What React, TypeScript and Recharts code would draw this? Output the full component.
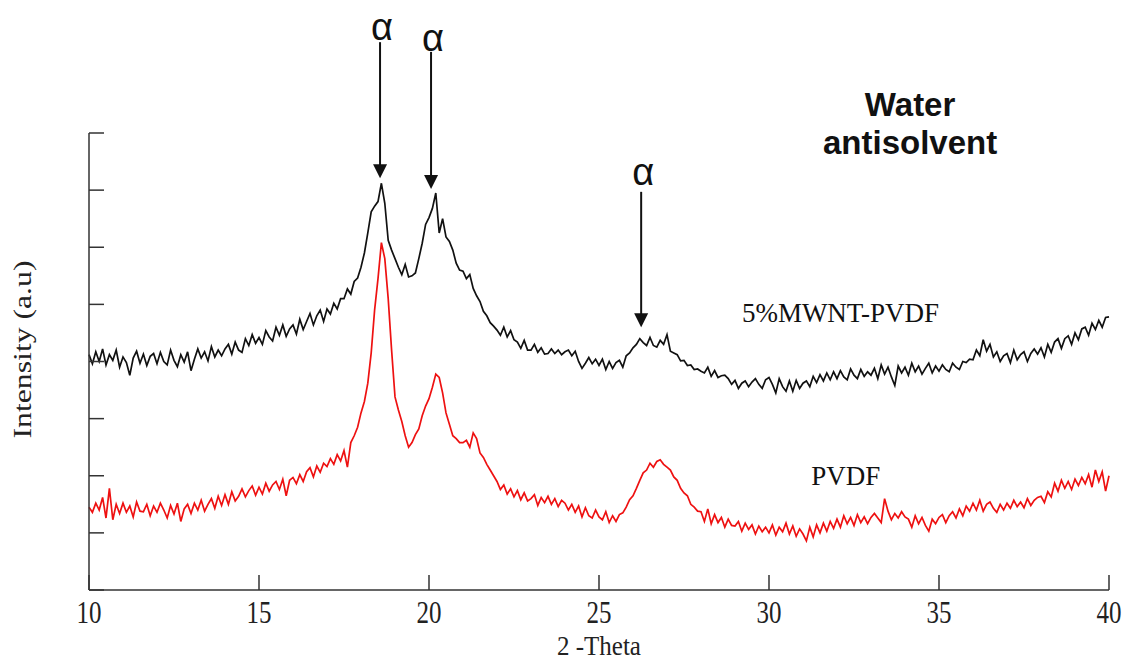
import React from "react";
import { LineChart, Line, XAxis, YAxis, ReferenceLine, ReferenceDot } from "recharts";

// 2-theta sampling grid (degrees)
const theta = [
  10, 10.1, 10.2, 10.3, 10.4, 10.5, 10.6, 10.7, 10.8, 10.9,
  11, 11.1, 11.2, 11.3, 11.4, 11.5, 11.6, 11.7, 11.8, 11.9,
  12, 12.1, 12.2, 12.3, 12.4, 12.5, 12.6, 12.7, 12.8, 12.9,
  13, 13.1, 13.2, 13.3, 13.4, 13.5, 13.6, 13.7, 13.8, 13.9,
  14, 14.1, 14.2, 14.3, 14.4, 14.5, 14.6, 14.7, 14.8, 14.9,
  15, 15.1, 15.2, 15.3, 15.4, 15.5, 15.6, 15.7, 15.8, 15.9,
  16, 16.1, 16.2, 16.3, 16.4, 16.5, 16.6, 16.7, 16.8, 16.9,
  17, 17.1, 17.2, 17.3, 17.4, 17.5, 17.6, 17.7, 17.8, 17.9,
  18, 18.1, 18.2, 18.3, 18.4, 18.5, 18.6, 18.7, 18.8, 18.9,
  19, 19.1, 19.2, 19.3, 19.4, 19.5, 19.6, 19.7, 19.8, 19.9,
  20, 20.1, 20.2, 20.3, 20.4, 20.5, 20.6, 20.7, 20.8, 20.9,
  21, 21.1, 21.2, 21.3, 21.4, 21.5, 21.6, 21.7, 21.8, 21.9,
  22, 22.1, 22.2, 22.3, 22.4, 22.5, 22.6, 22.7, 22.8, 22.9,
  23, 23.1, 23.2, 23.3, 23.4, 23.5, 23.6, 23.7, 23.8, 23.9,
  24, 24.1, 24.2, 24.3, 24.4, 24.5, 24.6, 24.7, 24.8, 24.9,
  25, 25.1, 25.2, 25.3, 25.4, 25.5, 25.6, 25.7, 25.8, 25.9,
  26, 26.1, 26.2, 26.3, 26.4, 26.5, 26.6, 26.7, 26.8, 26.9,
  27, 27.1, 27.2, 27.3, 27.4, 27.5, 27.6, 27.7, 27.8, 27.9,
  28, 28.1, 28.2, 28.3, 28.4, 28.5, 28.6, 28.7, 28.8, 28.9,
  29, 29.1, 29.2, 29.3, 29.4, 29.5, 29.6, 29.7, 29.8, 29.9,
  30, 30.1, 30.2, 30.3, 30.4, 30.5, 30.6, 30.7, 30.8, 30.9,
  31, 31.1, 31.2, 31.3, 31.4, 31.5, 31.6, 31.7, 31.8, 31.9,
  32, 32.1, 32.2, 32.3, 32.4, 32.5, 32.6, 32.7, 32.8, 32.9,
  33, 33.1, 33.2, 33.3, 33.4, 33.5, 33.6, 33.7, 33.8, 33.9,
  34, 34.1, 34.2, 34.3, 34.4, 34.5, 34.6, 34.7, 34.8, 34.9,
  35, 35.1, 35.2, 35.3, 35.4, 35.5, 35.6, 35.7, 35.8, 35.9,
  36, 36.1, 36.2, 36.3, 36.4, 36.5, 36.6, 36.7, 36.8, 36.9,
  37, 37.1, 37.2, 37.3, 37.4, 37.5, 37.6, 37.7, 37.8, 37.9,
  38, 38.1, 38.2, 38.3, 38.4, 38.5, 38.6, 38.7, 38.8, 38.9,
  39, 39.1, 39.2, 39.3, 39.4, 39.5, 39.6, 39.7, 39.8, 39.9,
  40,
];

// 5%MWNT-PVDF intensity (a.u.)
const mwntPvdf = [
  412, 396, 417, 400, 422, 394, 412, 402, 420, 390,
  408, 398, 376, 406, 418, 397, 413, 393, 409, 414,
  396, 416, 400, 394, 420, 402, 391, 412, 399, 417,
  384, 404, 422, 406, 417, 401, 426, 408, 420, 410,
  422, 430, 413, 434, 420, 416, 440, 428, 447, 432,
  442, 430, 454, 443, 436, 460, 446, 464, 444, 457,
  464, 448, 474, 456, 470, 484, 464, 480, 490, 470,
  492, 483, 502, 492, 510, 510, 527, 518, 540, 546,
  565, 590, 625, 662, 672, 680, 712, 677, 612, 595,
  580, 565, 552, 570, 548, 550, 555, 580, 607, 640,
  652, 668, 695, 625, 650, 618, 610, 595, 572, 560,
  558, 545, 552, 528, 515, 505, 488, 480, 468, 462,
  455, 446, 460, 443, 454, 438, 434, 423, 437, 420,
  420, 430, 416, 424, 413, 414, 422, 414, 420, 412,
  417, 420, 410, 418, 400, 388, 397, 407, 396, 404,
  393, 404, 386, 400, 388, 398, 402, 390, 410, 415,
  424, 430, 440, 433, 428, 442, 428, 425, 437, 430,
  447, 418, 415, 412, 401, 402, 393, 394, 386, 387,
  383, 380, 390, 374, 384, 372, 375, 376, 370, 360,
  367, 353, 362, 366, 356, 364, 370, 360, 353, 368,
  372, 360, 345, 370, 356, 348, 366, 348, 367, 353,
  362, 366, 356, 374, 363, 377, 366, 380, 368, 382,
  370, 384, 373, 368, 387, 376, 370, 386, 374, 382,
  376, 388, 370, 394, 378, 390, 373, 358, 392, 380,
  390, 376, 397, 382, 392, 378, 388, 397, 380, 392,
  383, 394, 386, 382, 397, 390, 386, 400, 398, 404,
  403, 420, 410, 438, 418, 430, 408, 417, 400, 410,
  414, 398, 420, 403, 412, 417, 400, 414, 422, 413,
  424, 408, 430, 416, 434, 440, 423, 440, 445, 430,
  450, 438, 457, 460, 446, 467, 456, 472, 460, 477,
  478,
];

// PVDF intensity (a.u.)
const pvdf = [
  145, 136, 152, 140, 162, 126, 178, 123, 150, 134,
  152, 136, 147, 128, 154, 138, 137, 150, 130, 147,
  136, 152, 140, 126, 148, 133, 152, 120, 142, 150,
  134, 152, 140, 157, 138, 150, 160, 143, 164, 148,
  167, 150, 172, 156, 164, 177, 163, 174, 182, 166,
  180, 168, 187, 173, 184, 190, 176, 194, 165, 192,
  197, 186, 202, 190, 207, 214, 198, 217, 206, 222,
  216, 230, 220, 237, 226, 244, 215, 258, 270, 285,
  310, 330, 362, 415, 490, 545, 608, 580, 510, 420,
  338, 315, 295, 270, 250, 258, 272, 282, 305, 322,
  335, 355, 378, 372, 345, 310, 290, 270, 265, 258,
  258, 262, 250, 275, 265, 240, 232, 220, 210, 200,
  190, 176, 184, 168, 177, 163, 174, 158, 170, 156,
  160, 167, 148, 162, 153, 164, 150, 160, 146, 157,
  152, 140, 150, 136, 147, 128, 144, 130, 126, 140,
  128, 123, 137, 118, 130, 120, 132, 135, 145, 158,
  165, 178, 192, 205, 210, 222, 215, 225, 228, 220,
  215, 210, 198, 192, 178, 170, 165, 150, 145, 138,
  137, 120, 142, 116, 132, 118, 127, 110, 124, 113,
  112, 120, 103, 117, 106, 114, 98, 112, 102, 110,
  100, 114, 96, 110, 102, 117, 98, 112, 94, 107,
  98, 86, 110, 93, 114, 100, 117, 103, 120, 108,
  124, 110, 130, 116, 127, 113, 132, 118, 128, 116,
  127, 134, 126, 118, 160, 138, 123, 134, 126, 137,
  128, 124, 110, 130, 116, 127, 113, 103, 124, 116,
  127, 132, 118, 130, 137, 126, 142, 130, 147, 138,
  152, 140, 157, 138, 150, 154, 143, 136, 150, 140,
  152, 143, 157, 146, 154, 144, 160, 148, 157, 162,
  164, 153, 172, 163, 187, 173, 192, 178, 190, 176,
  194, 183, 197, 186, 202, 180, 210, 190, 207, 173,
  200,
];

const xTicks = [10, 15, 20, 25, 30, 35, 40];
const yTicks = [0, 100, 200, 300, 400, 500, 600, 700, 800];

// alpha-phase peak arrows
const alphaAngle = [18.56, 20.06, 26.24];
const alphaArrowTop = [959, 942, 697];
const alphaArrowTip = [721, 702, 460];
const alphaLabelY = [985, 966, 732];

const seriesLabels = ["5%MWNT-PVDF", "PVDF"];
const seriesLabelX = [32.1, 32.26];
const seriesLabelY = [485, 200];

const noteLines = ["Water", "antisolvent"];
const noteX = 34.15;
const noteY = [850, 784];

const data = theta.map((t, i) => ({ theta: t, mwnt: mwntPvdf[i], pvdf: pvdf[i] }));

const SERIF = "'Liberation Serif', 'Times New Roman', serif";
const SANS = "'Liberation Sans', Arial, sans-serif";

const ArrowHead = ({ cx, cy }: any) => (
  <path d={`M${cx - 7},${cy - 14} L${cx + 7},${cy - 14} L${cx},${cy} Z`} fill="#111" />
);

const makeText =
  (text: string, family: string, size: number, weight: string | number = "normal") =>
  ({ cx, cy }: any) => (
    <text
      x={cx}
      y={cy}
      textAnchor="middle"
      dominantBaseline="central"
      fontFamily={family}
      fontSize={size}
      fontWeight={weight}
      fill="#111"
    >
      {text}
    </text>
  );

const XTick = ({ x, y, payload }: any) => (
  <text
    transform={`translate(${x},${y}) scale(1,1.25)`}
    textAnchor="middle"
    dy="0.71em"
    fontFamily={SERIF}
    fontSize={25}
    fill="#222"
  >
    {payload.value}
  </text>
);

const XLabel = ({ viewBox }: any) => (
  <text
    transform={`translate(${viewBox.x + viewBox.width / 2},${viewBox.y + 56}) scale(1,1.1)`}
    textAnchor="middle"
    dominantBaseline="central"
    fontFamily={SERIF}
    fontSize={25}
    fill="#222"
  >
    2 -Theta
  </text>
);

const YLabel = ({ viewBox }: any) => {
  const x = viewBox.x + 22;
  const y = viewBox.y + viewBox.height / 2 - 12;
  return (
    <text
      transform={`translate(${x},${y}) rotate(-90) scale(1.22,1)`}
      textAnchor="middle"
      dominantBaseline="central"
      fontFamily={SERIF}
      fontSize={26}
      fill="#222"
    >
      Intensity (a.u)
    </text>
  );
};

export default function App() {
  return (
    <div style={{ position: "absolute", left: 0, top: 0, background: "#fff" }}>
      <LineChart width={1130} height={664} data={data} margin={{ top: 133, right: 21, bottom: 0, left: 0 }}>
        <XAxis
          dataKey="theta"
          type="number"
          domain={[10, 40]}
          ticks={xTicks}
          height={74}
          tickSize={-15}
          tickMargin={26}
          stroke="#333"
          strokeWidth={1.5}
          tick={<XTick />}
          label={<XLabel />}
        />
        <YAxis
          type="number"
          domain={[0, 800]}
          ticks={yTicks}
          width={89}
          tickSize={-15}
          tickFormatter={() => ""}
          stroke="#333"
          strokeWidth={1.5}
          label={<YLabel />}
        />
        <Line
          type="linear"
          dataKey="mwnt"
          stroke="#111"
          strokeWidth={1.7}
          dot={false}
          isAnimationActive={false}
        />
        <Line
          type="linear"
          dataKey="pvdf"
          stroke="#ee1111"
          strokeWidth={1.7}
          dot={false}
          isAnimationActive={false}
        />
        {alphaAngle.map((a, i) => (
          <ReferenceLine
            key={`al${i}`}
            segment={[
              { x: a, y: alphaArrowTop[i] },
              { x: a, y: alphaArrowTip[i] + 20 },
            ]}
            stroke="#111"
            strokeWidth={2}
            ifOverflow="visible"
          />
        ))}
        {alphaAngle.map((a, i) => (
          <ReferenceDot
            key={`ah${i}`}
            x={a}
            y={alphaArrowTip[i]}
            ifOverflow="visible"
            shape={ArrowHead}
          />
        ))}
        {alphaAngle.map((a, i) => (
          <ReferenceDot
            key={`at${i}`}
            x={a + 0.06}
            y={alphaLabelY[i]}
            ifOverflow="visible"
            shape={makeText("α", SANS, 38)}
          />
        ))}
        {seriesLabels.map((s, i) => (
          <ReferenceDot
            key={`sl${i}`}
            x={seriesLabelX[i]}
            y={seriesLabelY[i]}
            ifOverflow="visible"
            shape={makeText(s, SERIF, 27)}
          />
        ))}
        {noteLines.map((s, i) => (
          <ReferenceDot
            key={`nl${i}`}
            x={noteX}
            y={noteY[i]}
            ifOverflow="visible"
            shape={makeText(s, SANS, 33, "bold")}
          />
        ))}
      </LineChart>
    </div>
  );
}
